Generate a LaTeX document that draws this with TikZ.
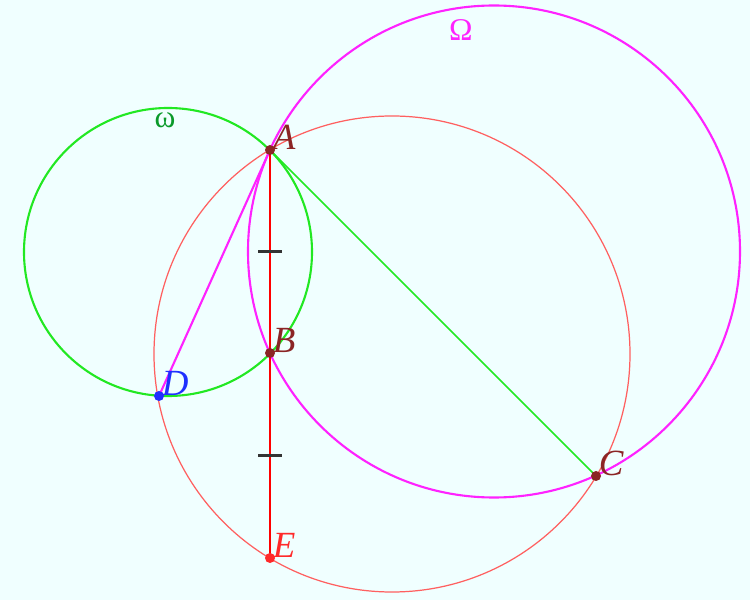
\documentclass[tikz,border=0pt]{standalone}
\usepackage{tikz}
\usepackage{amsmath}
\usepackage{fontspec}
\setmainfont{Liberation Serif}
\usetikzlibrary{positioning,calc}
\definecolor{bgazure}{HTML}{F0FFFF}
\definecolor{ptred}{HTML}{8B2525}
\definecolor{ptblue}{HTML}{2030FF}
\definecolor{ptE}{HTML}{FF2A2A}
\definecolor{grn}{HTML}{22E822}
\definecolor{dkgrn}{HTML}{0A9A2A}
\definecolor{mag}{HTML}{FF22FF}
\definecolor{redcirc}{HTML}{FF6060}

\begin{document}
\begin{tikzpicture}[lbl/.style={inner sep=0pt,font=\fontsize{21}{23}\selectfont\itshape},
  greek/.style={inner sep=0pt,font=\fontsize{18}{20}\selectfont}]
\fill[color=bgazure] (0,0) rectangle (15,12);
\coordinate (A) at (5.4,9);
\coordinate (B) at (5.4,4.94);
\coordinate (E) at (5.4,0.84);
\coordinate (D) at (3.18,4.08);
\coordinate (C) at (11.92,2.48);
% the three circles
\draw[color=redcirc, line width=0.7pt] (7.84,4.92) circle (4.76);
\draw[color=grn, line width=1.2pt] (3.36,6.96) circle (2.88);
\draw[color=mag, line width=1.2pt] (9.88,6.97) circle (4.92);
\draw[color=mag, line width=1.2pt] (A) -- (D);
\draw[color=grn, line width=0.9pt] (A) -- (C);
\draw[color=red, line width=1.6pt] (A) -- (E);
\foreach \p/\q in {A/B,B/E} \draw[color=black!80, line width=1.2pt] ($(\p)!0.5!(\q)+(-0.24,0)$) -- ($(\p)!0.5!(\q)+(0.24,0)$);
\foreach \p/\c in {A/ptred,B/ptred,C/ptred,D/ptblue,E/ptE} {
  \fill[color=\c] (\p) circle (0.1);
  \node[lbl, text=\c, above right=0cm and 0.05cm of \p] (l\p) {\p};
}
\node[greek, text=dkgrn] (lomega) at (3.3,9.6) {ω};
\node[greek, text=mag] (lOmega) at (9.22,11.4) {Ω};
\end{tikzpicture}
\end{document}
